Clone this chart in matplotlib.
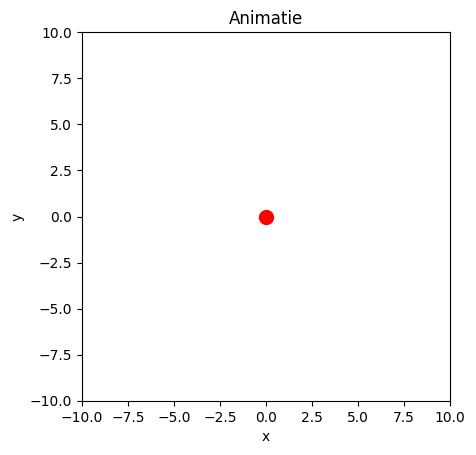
import matplotlib
matplotlib.use("Agg")
from matplotlib import pyplot as plt

# data
point_x = [0.0]
point_y = [0.0]
x_limits = [-10, 10]
y_limits = [-10, 10]
title = "Animatie"

fig = plt.figure(figsize=(4.76, 4.55), dpi=100)
ax = fig.add_axes([82 / 476, 54 / 455, 368 / 476, 369 / 455])

ax.plot(point_x, point_y, 'o', color='red', markersize=10)

ax.set_xlim(x_limits)
ax.set_ylim(y_limits)
ax.set_xlabel("x")
ax.set_ylabel("y")
ax.set_title(title)

fig.savefig("out.png", dpi=100)
